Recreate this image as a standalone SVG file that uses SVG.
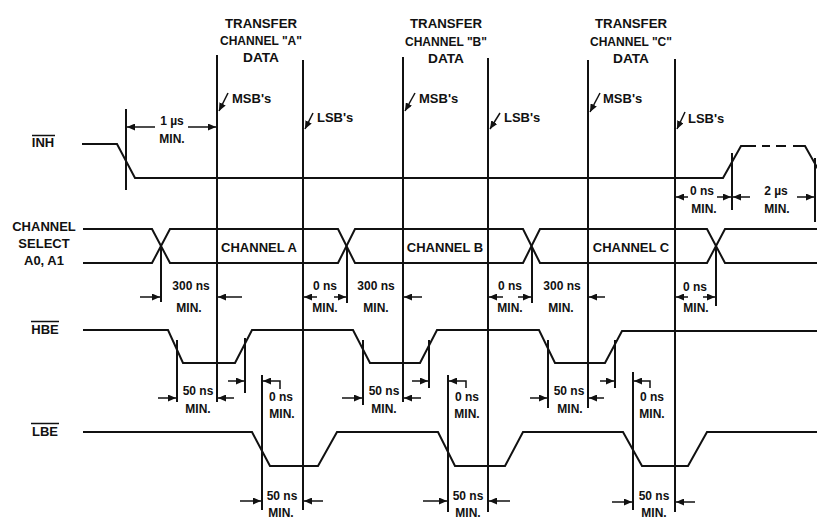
<svg xmlns="http://www.w3.org/2000/svg" width="817" height="519" viewBox="0 0 817 519">
<defs>
<marker id="ah" markerUnits="userSpaceOnUse" markerWidth="9" markerHeight="7" refX="8" refY="3.5" orient="auto">
<path d="M0,0 L8,3.5 L0,7 z" fill="#111"/>
</marker>
<style>
text{font-family:"Liberation Sans",Arial,sans-serif;font-weight:bold;fill:#111}
.hd{font-size:13.5px;text-anchor:middle}
.lb{font-size:13px;text-anchor:middle}
.ms{font-size:13px}
.dm{font-size:12px;text-anchor:middle}
.sig{fill:none;stroke:#111;stroke-width:2;stroke-linejoin:miter}
.vl{stroke:#111;stroke-width:2}
.ar{fill:none;stroke:#111;stroke-width:1.5;marker-end:url(#ah)}
.ov{stroke:#111;stroke-width:1.5}
</style>
</defs>
<rect width="817" height="519" fill="#fff"/>

<g id="signal-labels">
<text class="lb" x="43" y="147">INH</text><line class="ov" x1="32" y1="135.5" x2="55" y2="135.5"/>
<text class="lb" x="44" y="231">CHANNEL</text>
<text class="lb" x="44" y="248">SELECT</text>
<text class="lb" x="44" y="265">A0, A1</text>
<text class="lb" x="45" y="334">HBE</text><line class="ov" x1="31" y1="321.5" x2="59" y2="321.5"/>
<text class="lb" x="45" y="436">LBE</text><line class="ov" x1="31" y1="423.5" x2="59" y2="423.5"/>
</g>

<g id="headers">
<g id="hdr-a"><text class="hd" x="261" y="28" textLength="72" lengthAdjust="spacingAndGlyphs">TRANSFER</text><text class="hd" x="261" y="45" textLength="82" lengthAdjust="spacingAndGlyphs">CHANNEL "A"</text><text class="hd" x="261" y="62" textLength="36" lengthAdjust="spacingAndGlyphs">DATA</text></g>
<g id="hdr-b"><text class="hd" x="446" y="28" textLength="72" lengthAdjust="spacingAndGlyphs">TRANSFER</text><text class="hd" x="446" y="46" textLength="82" lengthAdjust="spacingAndGlyphs">CHANNEL "B"</text><text class="hd" x="446" y="63" textLength="36" lengthAdjust="spacingAndGlyphs">DATA</text></g>
<g id="hdr-c"><text class="hd" x="631" y="28" textLength="72" lengthAdjust="spacingAndGlyphs">TRANSFER</text><text class="hd" x="631" y="46" textLength="82" lengthAdjust="spacingAndGlyphs">CHANNEL "C"</text><text class="hd" x="631" y="63" textLength="36" lengthAdjust="spacingAndGlyphs">DATA</text></g>
</g>

<g id="signals">
<path id="inh" class="sig" d="M82,144 H117 L135,178 H723 L741,146 H756 M762,146 H770 M776,146 H786 M793,146 H805 L818,169"/>
<path id="chsel-1" class="sig" d="M83,229 H152 L170,263 H338 L355,229 H523 L540,263 H707 L725,229 H817"/>
<path id="chsel-2" class="sig" d="M83,263 H152 L170,229 H338 L355,263 H523 L540,229 H707 L725,263 H817"/>
<path id="hbe" class="sig" d="M83,330 H168 L183,363 H235 L252,330 H353 L370,363 H420 L437,330 H539 L555,363 H605 L622,331 H817"/>
<path id="lbe" class="sig" d="M83,432 H252 L270,466 H318 L337,432 H438 L455,466 H505 L523,432 H623 L642,466 H688 L707,432 H817"/>
<text class="lb" x="259" y="252">CHANNEL A</text>
<text class="lb" x="445" y="252">CHANNEL B</text>
<text class="lb" x="631" y="252">CHANNEL C</text>
</g>

<g id="connectors">
<line class="vl" x1="217" y1="55" x2="217" y2="402"/>
<line class="vl" x1="303" y1="60" x2="303" y2="510"/>
<line class="vl" x1="403" y1="57" x2="403" y2="402"/>
<line class="vl" x1="488" y1="58" x2="488" y2="512"/>
<line class="vl" x1="588" y1="60" x2="588" y2="408"/>
<line class="vl" x1="675" y1="59" x2="675" y2="512"/>
<line class="vl" x1="126" y1="109" x2="126" y2="190"/>
<line class="vl" x1="732" y1="153" x2="732" y2="210"/>
<line class="vl" x1="815" y1="158" x2="815" y2="222"/>
<line class="vl" x1="161" y1="247" x2="161" y2="302"/>
<line class="vl" x1="347" y1="247" x2="347" y2="303"/>
<line class="vl" x1="532" y1="247" x2="532" y2="303"/>
<line class="vl" x1="716" y1="247" x2="716" y2="306"/>
<line class="vl" x1="177" y1="340" x2="177" y2="402"/>
<line class="vl" x1="363" y1="340" x2="363" y2="405"/>
<line class="vl" x1="548" y1="340" x2="548" y2="408"/>
<line class="vl" x1="245" y1="338" x2="245" y2="393"/>
<line class="vl" x1="429" y1="340" x2="429" y2="388"/>
<line class="vl" x1="615" y1="340" x2="615" y2="388"/>
<line class="vl" x1="262" y1="375" x2="262" y2="510"/>
<line class="vl" x1="448" y1="375" x2="448" y2="512"/>
<line class="vl" x1="633" y1="372" x2="633" y2="510"/>

<line class="ar" x1="228" y1="93" x2="219" y2="111"/>
<line class="ar" x1="313" y1="113" x2="305" y2="129"/>
<line class="ar" x1="415" y1="93" x2="405" y2="111"/>
<line class="ar" x1="500" y1="113" x2="490" y2="129"/>
<line class="ar" x1="600" y1="93" x2="590" y2="112"/>
<line class="ar" x1="685" y1="112" x2="677" y2="129"/>

<line class="ar" x1="155" y1="127" x2="127" y2="127"/>
<line class="ar" x1="188" y1="127" x2="216" y2="127"/>
<line class="ar" x1="688" y1="197" x2="676" y2="197"/>
<line class="ar" x1="717" y1="197" x2="731" y2="197"/>
<line class="ar" x1="750" y1="197" x2="733" y2="197"/>
<line class="ar" x1="797" y1="197" x2="814" y2="197"/>

<line class="ar" x1="140" y1="297" x2="160" y2="297"/>
<line class="ar" x1="242" y1="297" x2="218" y2="297"/>
<line class="ar" x1="317" y1="297" x2="304" y2="297"/>
<line class="ar" x1="334" y1="297" x2="346" y2="297"/>
<line class="ar" x1="422" y1="297" x2="404" y2="297"/>
<line class="ar" x1="503" y1="297" x2="489" y2="297"/>
<line class="ar" x1="518" y1="297" x2="531" y2="297"/>
<line class="ar" x1="605" y1="297" x2="589" y2="297"/>
<line class="ar" x1="688" y1="297" x2="676" y2="297"/>
<line class="ar" x1="703" y1="297" x2="715" y2="297"/>

<line class="ar" x1="158" y1="398" x2="176" y2="398"/>
<line class="ar" x1="234" y1="398" x2="218" y2="398"/>
<line class="ar" x1="342" y1="398" x2="362" y2="398"/>
<line class="ar" x1="421" y1="398" x2="404" y2="398"/>
<line class="ar" x1="530" y1="398" x2="547" y2="398"/>
<line class="ar" x1="604" y1="398" x2="589" y2="398"/>

<line class="ar" x1="228" y1="381" x2="244" y2="381"/>
<path class="ar" d="M280,389 V381 H263"/>
<line class="ar" x1="412" y1="381" x2="428" y2="381"/>
<path class="ar" d="M466,388 V381 H449"/>
<line class="ar" x1="600" y1="381" x2="614" y2="381"/>
<path class="ar" d="M650,388 V381 H634"/>

<line class="ar" x1="240" y1="501" x2="261" y2="501"/>
<line class="ar" x1="323" y1="501" x2="304" y2="501"/>
<line class="ar" x1="423" y1="501" x2="447" y2="501"/>
<line class="ar" x1="510" y1="501" x2="489" y2="501"/>
<line class="ar" x1="612" y1="502" x2="632" y2="502"/>
<line class="ar" x1="695" y1="502" x2="676" y2="502"/>
</g>

<g id="annotations">
<text class="ms" x="232" y="103">MSB's</text>
<text class="ms" x="317" y="122">LSB's</text>
<text class="ms" x="419" y="103">MSB's</text>
<text class="ms" x="504" y="122">LSB's</text>
<text class="ms" x="603" y="103">MSB's</text>
<text class="ms" x="688" y="123">LSB's</text>

<text class="dm" x="172" y="125">1 µs</text><text class="dm" x="172" y="143">MIN.</text>
<text class="dm" x="702" y="195">0 ns</text><text class="dm" x="704" y="213">MIN.</text>
<text class="dm" x="776" y="195">2 µs</text><text class="dm" x="777" y="213">MIN.</text>

<text class="dm" x="191" y="290">300 ns</text><text class="dm" x="189" y="312">MIN.</text>
<text class="dm" x="325" y="290">0 ns</text><text class="dm" x="325" y="312">MIN.</text>
<text class="dm" x="376" y="290">300 ns</text><text class="dm" x="376" y="312">MIN.</text>
<text class="dm" x="510" y="290">0 ns</text><text class="dm" x="510" y="312">MIN.</text>
<text class="dm" x="562" y="290">300 ns</text><text class="dm" x="561" y="312">MIN.</text>
<text class="dm" x="695" y="291">0 ns</text><text class="dm" x="696" y="312">MIN.</text>

<text class="dm" x="198" y="395">50 ns</text><text class="dm" x="198" y="413">MIN.</text>
<text class="dm" x="384" y="395">50 ns</text><text class="dm" x="384" y="413">MIN.</text>
<text class="dm" x="569" y="395">50 ns</text><text class="dm" x="570" y="413">MIN.</text>

<text class="dm" x="281" y="401">0 ns</text><text class="dm" x="282" y="418">MIN.</text>
<text class="dm" x="467" y="401">0 ns</text><text class="dm" x="467" y="418">MIN.</text>
<text class="dm" x="652" y="401">0 ns</text><text class="dm" x="652" y="418">MIN.</text>

<text class="dm" x="282" y="500">50 ns</text><text class="dm" x="281" y="517">MIN.</text>
<text class="dm" x="468" y="500">50 ns</text><text class="dm" x="468" y="517">MIN.</text>
<text class="dm" x="654" y="500">50 ns</text><text class="dm" x="654" y="517">MIN.</text>
</g>
</svg>
